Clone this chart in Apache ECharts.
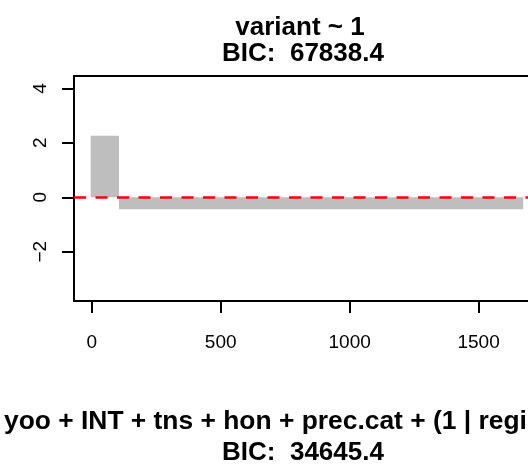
<!DOCTYPE html>
<html>
<head>
<meta charset="utf-8">
<script src="https://cdn.jsdelivr.net/npm/echarts@6/dist/echarts.min.js"></script>
<style>html,body{margin:0;padding:0;background:#fff}#c{width:528px;height:468px}</style>
</head>
<body>
<div id="c"></div>
<script>
// data
var binStart = [-4, 106];
var binEnd = [106, 1673];
var binValue = [2.26, -0.44];
var xTicks = [0, 500, 1000, 1500];
var yTicks = [-2, 0, 2, 4];
var refValue = 0;
var titleLines = ['variant ~ 1', 'BIC:  67838.4'];
var subTitleLines = ['yoo + INT + tns + hon + prec.cat + (1 | region)', 'BIC:  34645.4'];

var FONT = '"Liberation Sans", Arial, Helvetica, sans-serif';
var chart = echarts.init(document.getElementById('c'), null, {renderer: 'canvas'});
var bars = binStart.map(function (s, i) { return [s, binEnd[i], binValue[i]]; });
function plain(v) { return String(v).replace('-', '\u2212'); }

chart.setOption({
  animation: false,
  backgroundColor: '#ffffff',
  grid: {left: 74, top: 76, bottom: 167, right: -28, outerBoundsMode: 'none', containLabel: false,
         show: true, borderColor: '#000', borderWidth: 2, backgroundColor: 'transparent'},
  xAxis: {
    type: 'value', min: -68.6, max: 1800, position: 'bottom',
    axisLine: {show: false, onZero: false},
    splitLine: {show: false},
    axisTick: {show: true, inside: false, length: 12, lineStyle: {color: '#000', width: 2}, customValues: xTicks},
    axisLabel: {show: true, margin: 32, color: '#000', fontFamily: FONT, fontSize: 19, customValues: xTicks, formatter: plain}
  },
  yAxis: {
    type: 'value', min: -3.81, max: 4.455, position: 'left',
    axisLine: {show: false, onZero: false},
    splitLine: {show: false},
    axisTick: {show: true, inside: false, length: 12, lineStyle: {color: '#000', width: 2}, customValues: yTicks},
    axisLabel: {show: true, rotate: 90, margin: 24, color: '#000', fontFamily: FONT, fontSize: 19, customValues: yTicks, formatter: plain}
  },
  graphic: [
    {type: 'text', x: 300, y: 27.5, style: {text: titleLines[0], textAlign: 'center', textVerticalAlign: 'middle', font: 'bold 26px ' + FONT, fill: '#000'}},
    {type: 'text', x: 303, y: 54, style: {text: titleLines[1], textAlign: 'center', textVerticalAlign: 'middle', font: 'bold 26px ' + FONT, fill: '#000'}},
    {type: 'text', x: 4, y: 421.5, style: {text: subTitleLines[0], textAlign: 'left', textVerticalAlign: 'middle', font: 'bold 26.4px ' + FONT, fill: '#000'}},
    {type: 'text', x: 303, y: 452.5, style: {text: subTitleLines[1], textAlign: 'center', textVerticalAlign: 'middle', font: 'bold 26px ' + FONT, fill: '#000'}}
  ],
  series: [{
    type: 'custom',
    data: bars,
    encode: {x: [0, 1], y: 2},
    renderItem: function (params, api) {
      var p0 = api.coord([api.value(0), 0]);
      var p1 = api.coord([api.value(1), api.value(2)]);
      return {
        type: 'rect',
        shape: {x: p0[0], y: Math.min(p0[1], p1[1]), width: p1[0] - p0[0], height: Math.abs(p1[1] - p0[1])},
        style: {fill: '#BEBEBE'}
      };
    },
    markLine: {
      silent: true, symbol: ['none', 'none'], z: 10,
      label: {show: false},
      lineStyle: {color: '#FF0000', width: 2.5, type: [12, 9.5]},
      data: [{yAxis: refValue}]
    }
  }]
});
</script>
</body>
</html>
